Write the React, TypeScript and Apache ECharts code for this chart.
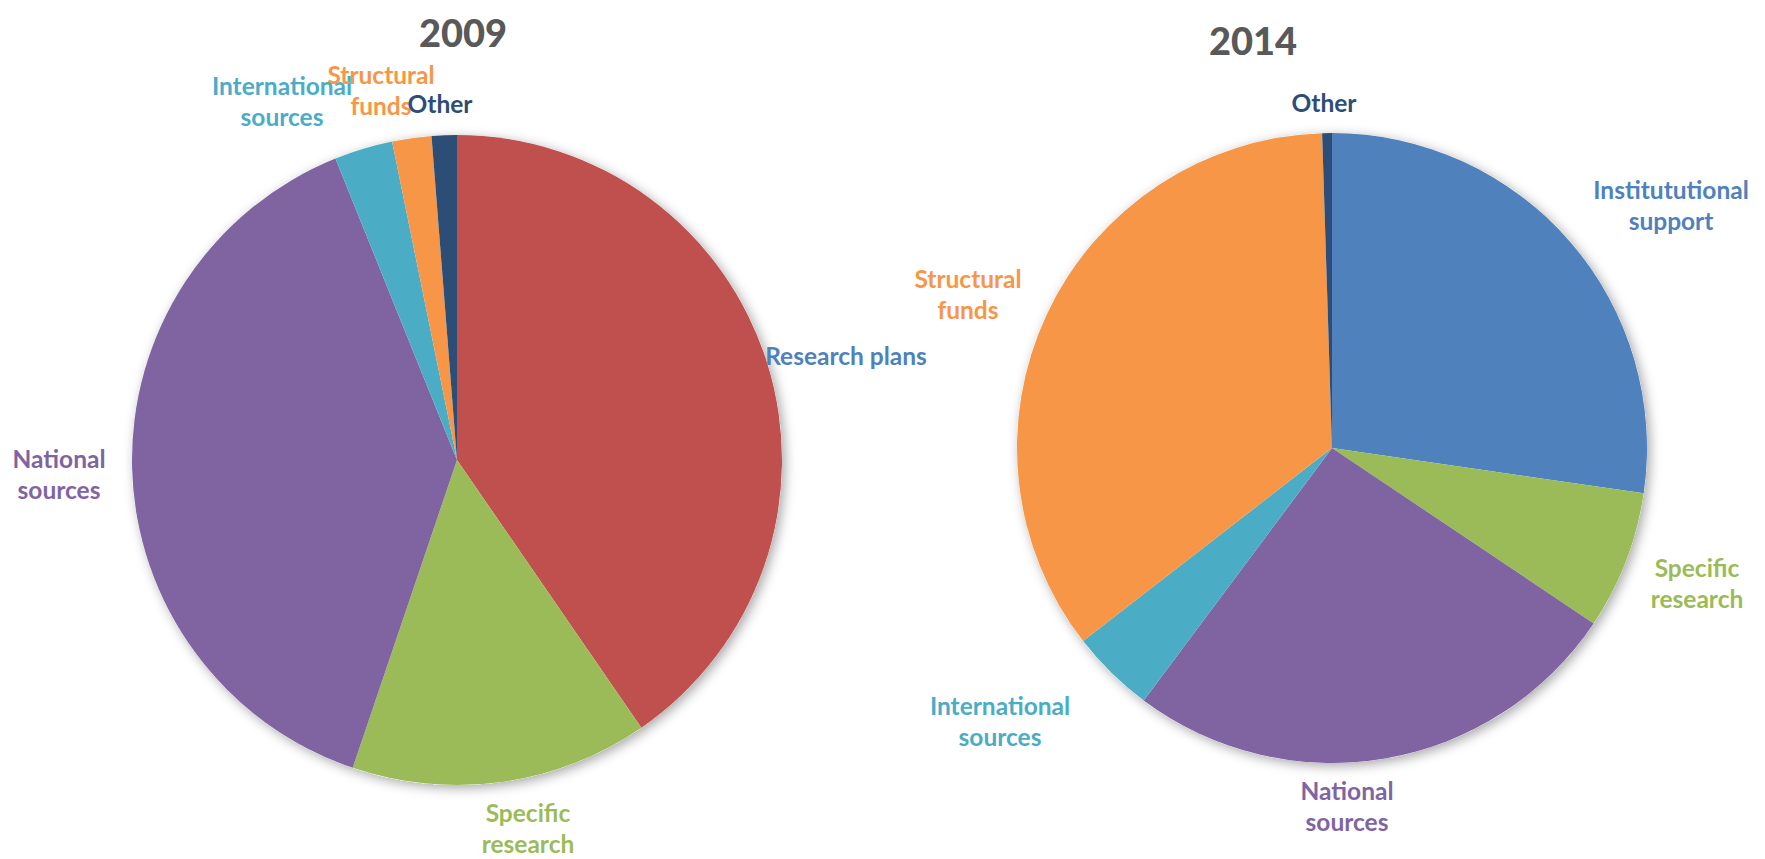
import React, { useEffect, useRef } from "react";
import * as echarts from "echarts";

const categories2009 = ["Research plans", "Specific\nresearch", "National\nsources", "International\nsources", "Structural\nfunds", "Other"];
const values2009 = [40.4, 14.8, 38.7, 2.9, 1.95, 1.25];
const sliceColors2009 = ["#C0504D", "#9BBB59", "#8064A2", "#4BACC6", "#F79646", "#2C4D75"];
const labelColors2009 = ["#4F81BD", "#9BBB59", "#8064A2", "#4BACC6", "#F79646", "#2C4D75"];

const categories2014 = ["Institututional\nsupport", "Specific\nresearch", "National\nsources", "International\nsources", "Structural\nfunds", "Other"];
const values2014 = [27.3, 7.1, 25.8, 4.3, 35.0, 0.5];
const sliceColors2014 = ["#4F81BD", "#9BBB59", "#8064A2", "#4BACC6", "#F79646", "#2C4D75"];
const labelColors2014 = ["#4F81BD", "#9BBB59", "#8064A2", "#4BACC6", "#F79646", "#2C4D75"];

const titles = ["2009", "2014"];

// label anchor positions (layout only)
const labelPos2009 = [[846, 355], [528, 828], [59, 474], [282, 101], [381, 90], [440, 103]];
const labelPos2014 = [[1671, 205], [1697, 583], [1347, 806], [1000, 721], [968, 294], [1324, 102]];

const FONT = "Lato";

function buildPie(cats: string[], vals: number[], sc: string[], lc: string[], center: number[], radius: number, pos: number[][]) {
  return {
    type: "pie",
    center,
    radius,
    startAngle: 90,
    clockwise: true,
    avoidLabelOverlap: false,
    z: 2,
    itemStyle: { borderWidth: 0 },
    label: {
      show: true,
      position: "outside",
      fontFamily: FONT,
      fontWeight: "bold",
      fontSize: 24.5,
      lineHeight: 31,
      align: "center",
      formatter: "{b}",
    },
    labelLine: { show: false },
    labelLayout: (p: any) => ({
      x: pos[p.dataIndex][0],
      y: pos[p.dataIndex][1],
      align: "center",
      verticalAlign: "middle",
    }),
    emphasis: { disabled: true },
    data: cats.map((c, i) => ({
      name: c,
      value: vals[i],
      itemStyle: { color: sc[i] },
      label: { color: lc[i] },
    })),
  };
}

function shadowPie(center: number[], radius: number) {
  return {
    type: "pie",
    center,
    radius,
    silent: true,
    z: 1,
    label: { show: false },
    labelLine: { show: false },
    itemStyle: {
      color: "#ffffff",
      shadowBlur: 12,
      shadowColor: "rgba(0,0,0,0.35)",
      shadowOffsetX: 3,
      shadowOffsetY: 3,
    },
    data: [{ value: 1, name: "" }],
  };
}

export default function App() {
  const ref = useRef<HTMLDivElement>(null);
  useEffect(() => {
    document.body.style.margin = "0";
    if (!ref.current) return;
    const chart = echarts.init(ref.current, undefined, { renderer: "svg" });
    chart.setOption({
      animation: false,
      backgroundColor: "#ffffff",
      title: [
        {
          text: titles[0],
          left: 458,
          top: 5,
          textAlign: "center",
          textStyle: { fontFamily: FONT, fontWeight: 900, fontSize: 38, color: "#595959", lineHeight: 44 },
        },
        {
          text: titles[1],
          left: 1248,
          top: 13,
          textAlign: "center",
          textStyle: { fontFamily: FONT, fontWeight: 900, fontSize: 38, color: "#595959", lineHeight: 44 },
        },
      ],
      series: [
        shadowPie([457, 460], 325),
        buildPie(categories2009, values2009, sliceColors2009, labelColors2009, [457, 460], 325, labelPos2009),
        shadowPie([1332, 448], 315),
        buildPie(categories2014, values2014, sliceColors2014, labelColors2014, [1332, 448], 315, labelPos2014),
      ],
    });
    return () => chart.dispose();
  }, []);
  return <div ref={ref} style={{ width: 1765, height: 859 }} />;
}
